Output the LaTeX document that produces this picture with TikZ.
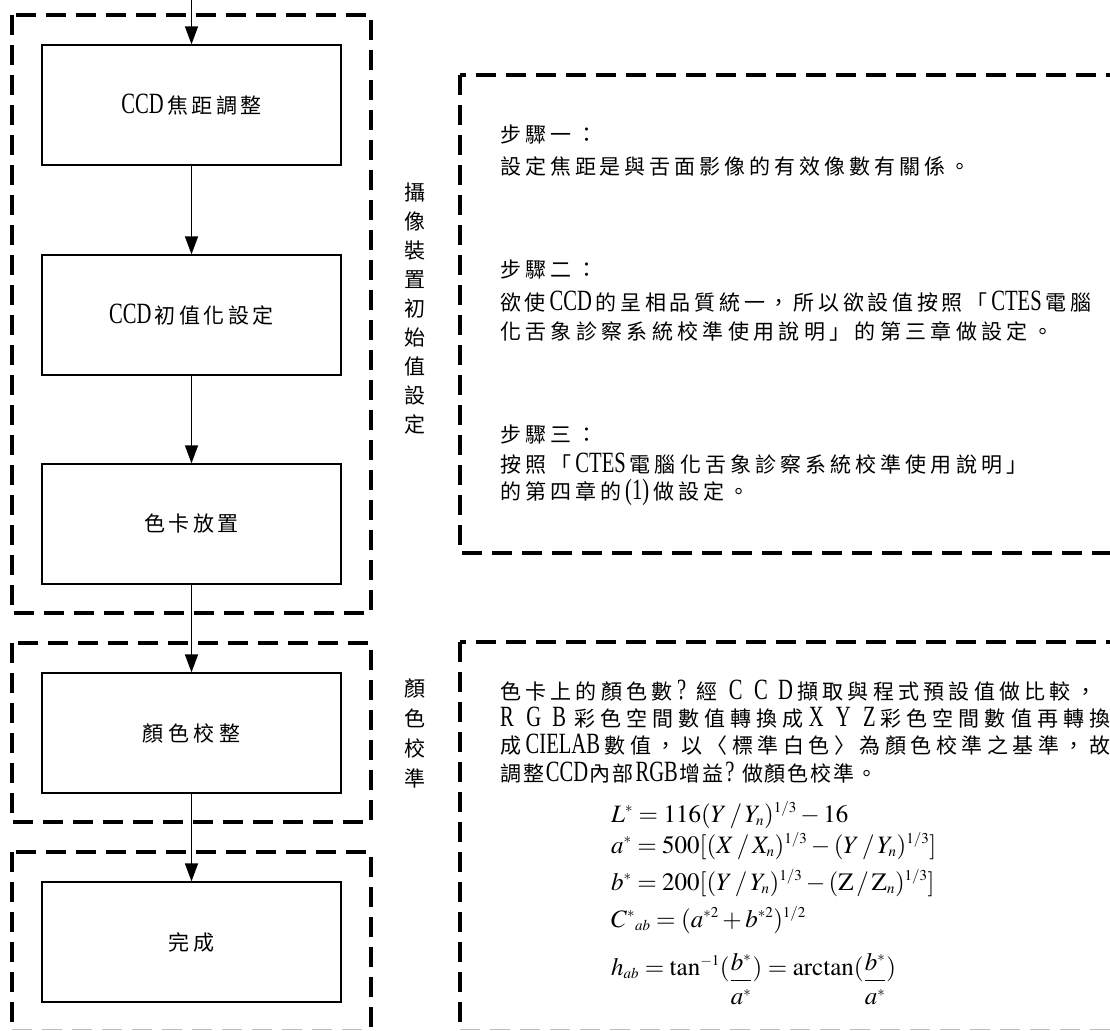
\documentclass[tikz,border=0pt]{standalone}
\usepackage{mathptmx}
\usepackage[no-math]{fontspec}
\setmainfont{Noto Sans CJK TC}
\newfontfamily\lat[Scale=1.4,FakeStretch=0.7]{Liberation Serif}
\usetikzlibrary{arrows.meta}
\DeclareMathSizes{25}{25}{15}{11}
\newskip\myglue
\def\myspread#1#2{\hbox to #1{\myglue=0pt plus 1fil\relax\myspfirst#2\relax}}
\def\mynat#1#2{\hbox{\myglue=#1\relax\myspfirst#2\relax}}
\def\myspfirst#1{#1\mysprest}
\def\mysprest#1{\ifx\relax#1\else\hskip\myglue #1\expandafter\mysprest\fi}
\newcommand\lc[2]{\makebox[#1][l]{\lat #2}}
\newcommand\rc[2]{\makebox[#1][r]{\lat #2}}
\newcommand\lowfrac[2]{\raisebox{-12pt}{$\displaystyle\frac{#1}{#2}$}}
\tikzset{
  dbox/.style={draw, line width=3.3pt, dash pattern=on 20pt off 10pt},
  edge/.style={draw=black!25, line width=1.2pt, dash pattern=on 20pt off 10pt},
  pbox/.style={draw, line width=1.3pt, minimum width=299pt, minimum height=120pt, inner sep=0pt},
  flow/.style={line width=1.5pt, -{Triangle[length=18pt,width=13pt]}},
  txt/.style={anchor=base west, inner sep=0pt},
  frm/.style={anchor=base west, inner sep=0pt, font=\fontsize{25}{28}\selectfont},
  vlab/.style={align=center, inner sep=0pt, font=\fontsize{21}{29}\selectfont},
}
\begin{document}
\begin{tikzpicture}[x=1pt,y=-1pt, every node/.style={font=\fontsize{21}{29}\selectfont}]
\useasboundingbox (0,0) rectangle (1110,1030);
\clip (0,0) rectangle (1110,1030);
\fill[white] (0,0) rectangle (1110,1030);
% group frames
\draw[dbox] (12,15) rectangle (371,613);
\draw[dbox] (12,643) rectangle (371,822);
\draw[dbox] (12,852) rectangle (371,1045);
\draw[dbox] (460,75) rectangle (1140,553);
\draw[dbox] (460,642) rectangle (1140,1045);
\draw[edge] (12,1029.6) -- (371,1029.6);
\draw[edge] (460,1029.6) -- (1140,1029.6);
% process boxes
\node[pbox] (b1) at (191.5,105) {\mynat{3.5pt}{{{\lat CCD}}焦距調整}};
\node[pbox] (b2) at (191.5,315) {\mynat{3.5pt}{{{\lat CCD}}初值化設定}};
\node[pbox] (b3) at (191.5,524) {\mynat{3.5pt}{色卡放置}};
\node[pbox] (b4) at (191.5,733) {\mynat{4.5pt}{顏色校整}};
\node[pbox] (b5) at (191.5,942) {\mynat{3.5pt}{完成}};
% connectors
\coordinate (top) at (191.5,-3);
\draw[flow] (top) -- (b1.north);
\draw[flow] (b1) -- (b2);
\draw[flow] (b2) -- (b3);
\draw[flow] (b3) -- (b4);
\draw[flow] (b4) -- (b5);
% vertical labels
\node[vlab] (v1) at (415,309) {攝\\像\\裝\\置\\初\\始\\值\\設\\定};
\node[vlab, font=\fontsize{21}{30}\selectfont] (v2) at (415,733) {顏\\色\\校\\準};
% step texts
\node[txt] (s1h) at (500,142.6) {\myspread{97pt}{步驟一：}};
\node[txt] (s1a) at (500,174.6) {\myspread{470pt}{設定焦距是與舌面影像的有效像數有關係。}};
\node[txt] (s2h) at (500,277.6) {\myspread{97pt}{步驟二：}};
\node[txt] (s2a) at (500,310.6) {\myspread{591pt}{欲使{{\lat CCD}}的呈相品質統一，所以欲設值按照「{{\lat CTES}}電腦}};
\node[txt] (s2b) at (500,339.6) {\myspread{553pt}{化舌象診察系統校準使用說明」的第三章做設定。}};
\node[txt] (s3h) at (500,442.6) {\myspread{97pt}{步驟三：}};
\node[txt] (s3a) at (500,472.6) {\myspread{527pt}{按照「{{\lat CTES}}電腦化舌象診察系統校準使用說明」}};
\node[txt] (s3b) at (500,499.6) {\myspread{249pt}{的第四章的{{\lat (1)}}做設定。}};
% colour calibration text
\node[txt] (c1) at (500,699.6) {\myspread{596pt}{色卡上的顏色數{{\lc{15pt}{?}}}經{{\rc{21pt}{C}}}{{\rc{21pt}{C}}}{{\rc{21pt}{D}}}擷取與程式預設值做比較，}};
\node[txt] (c2) at (500,726.6) {\myspread{610pt}{{{\lc{21pt}{R}}}{{\lc{21pt}{G}}}{{\lc{17pt}{B}}}彩色空間數值轉換成{{\lc{22pt}{X}}}{{\lc{22pt}{Y}}}{{\lat Z}}彩色空間數值再轉換}};
\node[txt] (c3) at (500,753.6) {\myspread{610pt}{成{{\lat CIELAB}}數值，以〈標準白色〉為顏色校準之基準，故}};
\node[txt] (c4) at (500,781.6) {\myspread{377pt}{調整{{\lat CCD}}內部{{\lat RGB}}增益{{\lc{15pt}{?}}}做顏色校準。}};
% formulas
\node[frm] (f1) at (611,822) {$L^{*}=116(Y\,/\,Y_{n})^{1/3}-16$};
\node[frm] (f2) at (611,853) {$a^{*}=500[(X\,/\,X_{n})^{1/3}-(Y\,/\,Y_{n})^{1/3}]$};
\node[frm] (f3) at (611,890) {$b^{*}=200[(Y\,/\,Y_{n})^{1/3}-(\mathrm{Z}\,/\,\mathrm{Z}_{n})^{1/3}]$};
\node[frm] (f4) at (611,927) {$C^{*}{}_{ab}=(a^{*2}+b^{*2})^{1/2}$};
\node[frm] (f5) at (611,975) {$h_{ab}=\tan^{-1}(\lowfrac{b^{*}}{a^{*}})=\arctan(\lowfrac{b^{*}}{a^{*}})$};
\end{tikzpicture}
\end{document}
